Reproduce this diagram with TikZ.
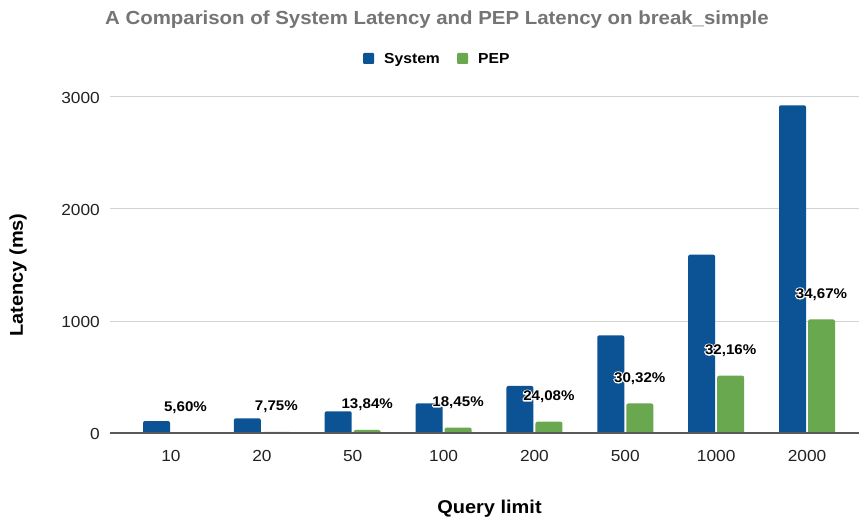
\documentclass[tikz,border=0pt]{standalone}
\usepackage{fontspec}
\setmainfont{Liberation Sans}[FakeStretch=1.08]
\definecolor{sysblue}{HTML}{0B5394}
\definecolor{pepgreen}{HTML}{6AA84F}
\definecolor{titlegrey}{HTML}{757575}
\definecolor{gridgrey}{HTML}{D3D3D3}
\definecolor{axisgrey}{HTML}{5A5A5A}
\definecolor{ticktext}{HTML}{222222}
\newcommand\halotext[1]{\rlap{\special{pdf:literal direct 1 Tr 1 1 1 RG 2.4 w 1 j 1 J}#1\special{pdf:literal direct 0 Tr 0 0 0 RG 0.4 w 0 j 0 J}}#1}
\begin{document}
\begin{tikzpicture}[x=1pt,y=-1pt,
  titletext/.style={font=\bfseries\fontsize{18.9}{21}\selectfont,text=titlegrey,inner sep=0pt},
  legtext/.style={font=\bfseries\fontsize{14.5}{16}\selectfont,text=black,inner sep=0pt},
  ticklab/.style={font=\fontsize{16}{18}\selectfont,text=ticktext,inner sep=0pt},
  axtitle/.style={font=\bfseries\fontsize{18.5}{20}\selectfont,text=black,inner sep=0pt},
  pcttext/.style={font=\bfseries\fontsize{14}{16}\selectfont,text=black,inner sep=0pt},
  gridline/.style={draw=gridgrey,line width=1pt},
  baseline/.style={draw=axisgrey,line width=1.3pt},
  sysbar/.style={fill=sysblue},
  pepbar/.style={fill=pepgreen}]
\useasboundingbox[fill=white] (0,0) rectangle (859,521);

% title
\node[titletext,anchor=base] (title) at (437,25) {A Comparison of System Latency and PEP Latency on break\_simple};

% legend
\fill[sysblue,rounded corners=1pt] (363,53) rectangle (374,64);
\node[legtext,anchor=base west] (legsys) at (384,64) {System};
\fill[pepgreen,rounded corners=1pt] (457,53) rectangle (468,64);
\node[legtext,anchor=base west] (legpep) at (478,64) {PEP};

% grid
\foreach \v/\gy in {3000/97,2000/209,1000/321}{
  \draw[gridline] (110,\gy) -- (859,\gy);
  \node[ticklab,anchor=east] (yt\v) at (100,\gy+1) {\v};
}
\node[ticklab,anchor=east] (yt0) at (100,434) {0};

% bars
\foreach \i/\lab/\s/\p in {0/10/107/6,1/20/131/10,2/50/194/27,3/100/265/49,4/200/420/101,5/500/872/264,6/1000/1592/512,7/2000/2926/1014}{
  \pgfmathsetmacro{\c}{171+90.857*\i}
  \pgfmathsetmacro{\st}{433-0.112*\s}
  \pgfmathsetmacro{\pt}{433-0.112*\p}
  \pgfmathsetmacro{\pr}{min(2,0.112*\p/2)}
  \fill[sysbar] (\c-28,433) [rounded corners=2pt] -- (\c-28,\st) -- (\c-1,\st) [sharp corners] -- (\c-1,433) -- cycle;
  \fill[pepbar] (\c+1,433) [rounded corners=\pr pt] -- (\c+1,\pt) -- (\c+28,\pt) [sharp corners] -- (\c+28,433) -- cycle;
  \node[ticklab,anchor=base] (xt\lab) at (\c,461) {\lab};
}
\draw[baseline] (110,433) -- (859,433);

% percentage labels with white halo
\foreach \i/\p/\pct in {0/6/{5,60\%},1/10/{7,75\%},2/27/{13,84\%},3/49/{18,45\%},4/101/{24,08\%},5/264/{30,32\%},6/512/{32,16\%},7/1014/{34,67\%}}{
  \pgfmathsetmacro{\c}{171+90.857*\i+14.5}
  \pgfmathsetmacro{\ly}{433-0.112*\p-25}
  \node[pcttext] (pct\i) at (\c,\ly) {\halotext{\pct}};
}

% axis titles
\node[axtitle,rotate=90] (ytitle) at (18,275) {Latency (ms)};
\node[axtitle,anchor=base] (xtitle) at (489.5,513) {Query limit};
\end{tikzpicture}
\end{document}
